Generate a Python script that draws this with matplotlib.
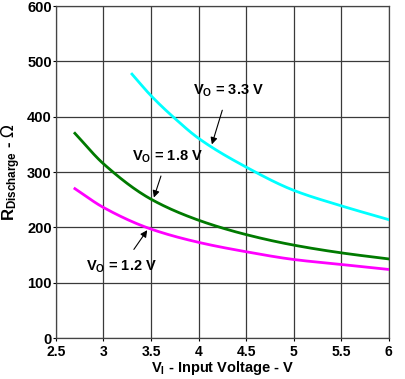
import matplotlib
matplotlib.use("Agg")
import matplotlib.pyplot as plt
import numpy as np

plt.rcParams['font.family'] = ['Liberation Sans', 'DejaVu Sans']
plt.rcParams['mathtext.fontset'] = 'custom'
plt.rcParams['mathtext.rm'] = 'Liberation Sans:bold'
plt.rcParams['mathtext.it'] = 'Liberation Sans:bold'
plt.rcParams['mathtext.bf'] = 'Liberation Sans:bold'
plt.rcParams['mathtext.sf'] = 'DejaVu Sans'

# Data
x_33 = [3.3, 3.5, 3.75, 4.0, 4.5, 5.0, 5.5, 6.0]
y_33 = [477, 438, 397, 361, 309, 267, 239, 214]
x_18 = [2.7, 3.0, 3.5, 4.0, 4.5, 5.0, 5.5, 6.0]
y_18 = [370, 315, 251, 213, 187, 168, 154, 143]
x_12 = [2.7, 3.0, 3.5, 4.0, 4.5, 5.0, 5.5, 6.0]
y_12 = [270, 236, 197, 173, 156, 142, 133, 124]

xticks = [2.5, 3, 3.5, 4, 4.5, 5, 5.5, 6]
xticklabels = ['2.5', '3', '3.5', '4', '4.5', '5', '5.5', '6']
yticks = [0, 100, 200, 300, 400, 500, 600]


def smooth(xs, ys, n=200):
    xs = np.asarray(xs, float); ys = np.asarray(ys, float)
    h = np.diff(xs); d = np.diff(ys) / h
    m = np.zeros_like(ys)
    m[0] = d[0]; m[-1] = d[-1]
    for i in range(1, len(xs) - 1):
        if d[i-1] * d[i] <= 0:
            m[i] = 0
        else:
            w1 = 2*h[i] + h[i-1]; w2 = h[i] + 2*h[i-1]
            m[i] = (w1 + w2) / (w1/d[i-1] + w2/d[i])
    xx = np.linspace(xs[0], xs[-1], n)
    idx = np.clip(np.searchsorted(xs, xx) - 1, 0, len(xs) - 2)
    t = (xx - xs[idx]) / h[idx]
    h00 = 2*t**3 - 3*t**2 + 1; h10 = t**3 - 2*t**2 + t
    h01 = -2*t**3 + 3*t**2; h11 = t**3 - t**2
    yy = h00*ys[idx] + h10*h[idx]*m[idx] + h01*ys[idx+1] + h11*h[idx]*m[idx+1]
    return xx, yy


fig = plt.figure(figsize=(4.05, 3.79), dpi=100)
ax = fig.add_axes([0.138, 0.108, 0.822, 0.876])

for xs, ys, c in [(x_33, y_33, '#00FFFF'), (x_18, y_18, '#007A00'), (x_12, y_12, '#FF00FF')]:
    xx, yy = smooth(xs, ys)
    ax.plot(xx, yy, color=c, lw=2.0, zorder=3)

ax.set_xlim(2.5, 6)
ax.set_ylim(0, 600)
ax.set_xticks(xticks)
ax.set_xticklabels(xticklabels)
ax.set_yticks(yticks)
ax.grid(True, color='#3a3a3a', lw=0.9)
ax.tick_params(length=2, width=0.8, labelsize=10.5)
ax.tick_params(axis='x', pad=3, labelsize=10)
ax.tick_params(axis='y', pad=1)
for lab in ax.get_xticklabels() + ax.get_yticklabels():
    lab.set_fontweight('bold')
for s in ax.spines.values():
    s.set_color('#444444'); s.set_linewidth(0.9)

ax.set_xlabel(r'V$_{\mathregular{I}}$ - Input Voltage - V', fontsize=10.5, fontweight='bold', labelpad=0)
ax.set_ylabel(r'R$_{\mathregular{Discharge}}$ - $\mathsf{\Omega}$', fontsize=12, fontweight='bold', labelpad=3)

akw = dict(fontsize=10.5, fontweight='bold', ha='center', va='center',
           arrowprops=dict(arrowstyle='-|>', color='black', lw=0.8, mutation_scale=10,
                           shrinkA=6, shrinkB=0))
ax.annotate(r'V$_{\mathregular{O}}$ = 3.3 V', xy=(4.14, 350), xytext=(4.31, 446), **akw)
ax.annotate(r'V$_{\mathregular{O}}$ = 1.8 V', xy=(3.53, 254), xytext=(3.67, 327), **akw)
ax.annotate(r'V$_{\mathregular{O}}$ = 1.2 V', xy=(3.46, 195), xytext=(3.19, 128), **akw)

fig.savefig('out.png', dpi=100)
